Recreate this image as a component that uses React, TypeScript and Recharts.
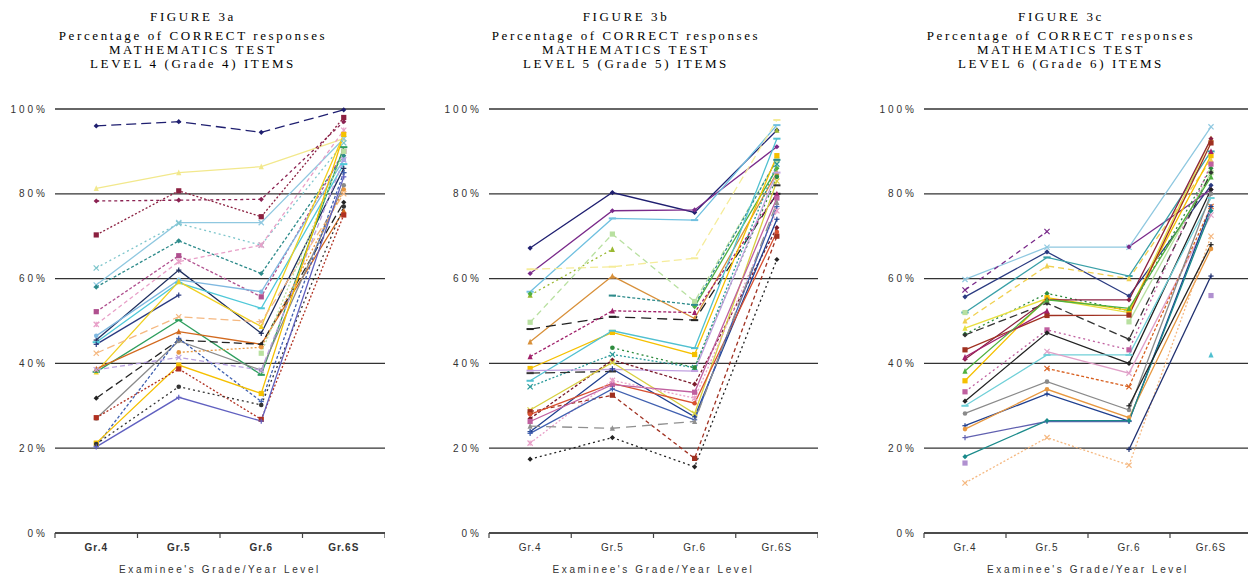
import React from 'react';
import { LineChart, Line, XAxis, YAxis, CartesianGrid, Label } from 'recharts';

type V = number | null;

const categories = ['Gr.4', 'Gr.5', 'Gr.6', 'Gr.6S'];
const yTicks = [0, 20, 40, 60, 80, 100];
const xAxisTitle = "Examinee's Grade/Year Level";

const fig3aTitle = ['FIGURE 3a', 'Percentage of CORRECT responses', 'MATHEMATICS TEST', 'LEVEL 4 (Grade 4) ITEMS'];
const fig3bTitle = ['FIGURE 3b', 'Percentage of CORRECT responses', 'MATHEMATICS TEST', 'LEVEL 5 (Grade 5) ITEMS'];
const fig3cTitle = ['FIGURE 3c', 'Percentage of CORRECT responses', 'MATHEMATICS TEST', 'LEVEL 6 (Grade 6) ITEMS'];

// Figure 3a: values per item at Gr.4, Gr.5, Gr.6, Gr.6S
const fig3aValues: V[][] = [
  [96, 97, 94.5, 99.8],
  [81.3, 85, 86.4, 93],
  [78.3, 78.5, 78.7, 97],
  [70.3, 80.7, 74.6, 98],
  [58.5, 73.2, 73.2, 93],
  [58, 68.9, 61.2, 89],
  [62.5, 73, 67.9, 92],
  [52.2, 65.4, 55.7, 90],
  [49.2, 64, 67.9, 95],
  [45.5, 62, 47.1, 86],
  [46.5, 59.7, 56.9, 88],
  [45, 59, 53, 87],
  [44.5, 56.1, null, 85],
  [38, 59.3, 48.7, 94],
  [42.4, 51, 49.8, 80],
  [38, 50.2, 37.3, 91],
  [38.7, 47.5, 44.5, 76],
  [31.8, 45.5, 44.5, 78],
  [27, 45.3, 38.4, 82],
  [20.5, 45.9, 31, 85],
  [38.5, 41.4, 38.4, 88],
  [null, 42.6, 43.8, 81],
  [null, null, 42.4, 90],
  [21.2, 39.6, 32.9, 94],
  [27.2, 38.7, 26.8, 75],
  [21, 34.5, 30.2, 77],
  [20.3, 32, 26.4, 84],
];
const fig3aColors = [
  '#1f1f70', '#f2e88c', '#8b2252', '#8b2040', '#8fc8e0', '#2e8b8b', '#7fc6cc', '#b0508f', '#e8a0c8',
  '#1f2f5f', '#7fb8e0', '#4fc8d8', '#2a3a80', '#f0d020', '#f5b880', '#2e9e5e', '#d2691e', '#222222',
  '#8a8a8a', '#4060b0', '#b8a0e0', '#e89840', '#b8e0a0', '#f5c000', '#b03020', '#333333', '#6060c0',
];
const fig3aDashes = [
  '10 5', '', '3 3', '2 2', '', '3 2', '2 3', '3 2', '4 3', '', '', '', '', '', '8 4', '', '', '8 4',
  '', '3 2', '5 3', '2 2', '2 2', '', '2 2', '2 3', '',
];
const fig3aMarkers = [
  'd', 't', 'd', 's', 'x', 'd', 'x', 's', '*', '+', 'o', '-', '+', 't', 'x', '-', 't', 'd',
  'o', '+', 'x', 'o', 's', 's', 's', 'o', '+',
];

// Figure 3b
const fig3bValues: V[][] = [
  [67.2, 80.3, 75.6, 95],
  [61.2, 76, 76.2, 91.1],
  [56.9, 74.2, 73.8, 96.2],
  [49.7, 70.5, 54.6, 88],
  [56.1, 66.9, null, 95],
  [62.2, 62.8, 64.8, 97.4],
  [45.1, 60.6, 50.6, 85],
  [56.4, null, 53.4, 86],
  [null, 56, 53.8, 88],
  [48.1, 51, 50.2, 80],
  [41.6, 52.4, 52, 80],
  [38.8, 47.3, 42.1, 89],
  [35.9, 47.7, 43.6, 93],
  [34.5, 42.1, 39, 87],
  [null, 43.7, 39, 84],
  [38.3, 38.6, 38.2, 85],
  [37.7, 38.1, null, 82],
  [27, 40.8, 35.1, 72],
  [23.9, 38.7, 27.4, 74],
  [29, 40.2, 28.2, 83],
  [28.6, 32.5, 17.6, 70],
  [28, 35.3, 30.6, 71],
  [26.3, 35, 33.2, 79],
  [21.2, 36, 31.8, 76],
  [23.5, 34, 26.7, 77],
  [25.2, 24.7, 26.3, 78],
  [17.4, 22.5, 15.6, 64.5],
];
const fig3bColors = [
  '#1f1f70', '#7a2a8a', '#70c0e0', '#b8e0a0', '#9ab830', '#f5ec9a', '#d8903a', '#50b040', '#2e8b8b',
  '#222222', '#a0206a', '#f5c000', '#50c0d0', '#2a9a9a', '#2e8b3e', '#c0a0e0', '#333333', '#7a1a2a',
  '#1f3f8f', '#d8d040', '#a03020', '#d85030', '#c060a0', '#e8a0c8', '#4060b0', '#909090', '#222222',
];
const fig3bDashes = [
  '', '', '', '6 4', '2 3', '8 4', '', '', '3 2', '10 6', '3 2', '', '', '2 2', '2 3', '', '10 5', '3 2',
  '', '', '4 3', '', '', '2 2', '', '10 6', '2 3',
];
const fig3bMarkers = [
  'd', 'd', '-', 's', 't', '-', 't', 'd', '-', '-', 't', 's', '-', 'x', 'o', '-', '-', 'd',
  '+', 'x', 's', 'o', 's', '*', '+', 't', 'd',
];

// Figure 3c
const fig3cValues: V[][] = [
  [59.8, 67.4, 67.4, 95.8],
  [57.3, 71.1, null, null],
  [55.7, 66.3, 55.9, 82],
  [null, null, 67.5, 81],
  [52, 65, 60.6, 90],
  [50, 63, 60, 88],
  [52, null, 49.8, 85],
  [46.9, 56.5, 52.4, 86],
  [48.3, 55.3, 52, 93],
  [35.9, 55.5, 52.5, 89],
  [46.7, 54.2, 45.7, 85],
  [41, 55, 55, 93],
  [43.2, 51.3, 51.4, 92],
  [41.5, 52.4, null, 90],
  [33.3, 47.9, 43.2, 87],
  [31.1, 47.2, 40, 81],
  [38.2, 55, 53, 84],
  [30, 42, 42, 79],
  [null, 42.8, 37.7, 75],
  [null, 38.8, 34.5, 77],
  [28.2, 35.7, 29, 80],
  [25.3, 32.8, 26.4, 77],
  [24.5, 33.9, 27.2, 67],
  [22.5, 26.3, 26.3, null],
  [18, 26.5, 26.5, 76],
  [16.5, null, null, 56],
  [11.8, 22.5, 16, 70],
  [null, null, 19.7, 60.6],
  [null, null, null, 42],
  [null, null, 30, 68],
];
const fig3cColors = [
  '#8fc8e0', '#7a2a8a', '#2a3a80', '#7a2a8a', '#3aa0a8', '#f0d050', '#b8e0a0', '#2e8b3e', '#e8e040',
  '#f5c000', '#333333', '#8b2040', '#a03020', '#a0206a', '#c060a0', '#222222', '#50b040', '#70d0d8',
  '#e0a0c8', '#d86020', '#8a8a8a', '#1f3f8f', '#e89840', '#6060b0', '#1a8a8a', '#b090d0', '#f5b880',
  '#1f2f6f', '#50c0d0', '#222222',
];
const fig3cDashes = [
  '', '5 4', '', '', '', '6 4', '', '2 3', '', '', '8 4', '', '', '', '2 3', '', '', '',
  '', '3 2', '', '', '', '', '', '', '2 2', '', '', '',
];
const fig3cMarkers = [
  'x', 'x', 'd', 'd', '-', 't', 's', 'd', 't', 's', 'd', 'd', 's', 't', 's', 'd', 't', '-',
  'x', 'x', 'o', '+', 'o', '+', 'd', 's', 'x', '+', 't', '+',
];

const buildData = (values: V[][]) =>
  categories.map((cat, i) => {
    const row: Record<string, V | string> = { cat };
    values.forEach((series, s) => {
      row['s' + s] = series[i];
    });
    return row;
  });

const makeDot = (shape: string, color: string, sid: string) => (props: any) => {
  const { cx, cy, index, value } = props;
  const key = `${sid}-${index}`;
  if (cx == null || cy == null || value == null || Number.isNaN(cy)) return <g key={key} />;
  const r = 2.6;
  switch (shape) {
    case 's':
      return <rect key={key} x={cx - r} y={cy - r} width={2 * r} height={2 * r} fill={color} />;
    case 't':
      return <polygon key={key} points={`${cx},${cy - r - 0.5} ${cx - r},${cy + r} ${cx + r},${cy + r}`} fill={color} />;
    case 'd':
      return <polygon key={key} points={`${cx},${cy - r} ${cx + r},${cy} ${cx},${cy + r} ${cx - r},${cy}`} fill={color} />;
    case 'o':
      return <circle key={key} cx={cx} cy={cy} r={r - 0.3} fill={color} />;
    case 'x':
      return (
        <g key={key} stroke={color} strokeWidth={1.2}>
          <line x1={cx - r} y1={cy - r} x2={cx + r} y2={cy + r} />
          <line x1={cx - r} y1={cy + r} x2={cx + r} y2={cy - r} />
        </g>
      );
    case '*':
      return (
        <g key={key} stroke={color} strokeWidth={1.2}>
          <line x1={cx - r} y1={cy - r} x2={cx + r} y2={cy + r} />
          <line x1={cx - r} y1={cy + r} x2={cx + r} y2={cy - r} />
          <line x1={cx} y1={cy - r} x2={cx} y2={cy + r} />
        </g>
      );
    case '+':
      return (
        <g key={key} stroke={color} strokeWidth={1.2}>
          <line x1={cx - r} y1={cy} x2={cx + r} y2={cy} />
          <line x1={cx} y1={cy - r} x2={cx} y2={cy + r} />
        </g>
      );
    default:
      return <line key={key} x1={cx - r - 1} y1={cy} x2={cx + r + 1} y2={cy} stroke={color} strokeWidth={2} />;
  }
};

const XTick = (props: any) => {
  const { x, y, payload, index, half, bold } = props;
  return (
    <g>
      <line x1={x - half} y1={y} x2={x - half} y2={y + 5} stroke="#444" strokeWidth={1.2} />
      {index === categories.length - 1 && (
        <line x1={x + half} y1={y} x2={x + half} y2={y + 5} stroke="#444" strokeWidth={1.2} />
      )}
      <text
        x={x}
        y={y + 18}
        textAnchor="middle"
        fontFamily="Liberation Sans, Arial, sans-serif"
        fontSize={10}
        fontWeight={bold ? 'bold' : 'normal'}
        letterSpacing={1}
        fill="#333"
      >
        {payload.value}
      </text>
    </g>
  );
};

type PanelProps = {
  left: number;
  width: number;
  yAxisWidth: number;
  values: V[][];
  colors: string[];
  dashes: string[];
  markers: string[];
  title: string[];
  titleCenter: number;
  boldX: boolean;
  id: string;
};

const Panel = ({ left, width, yAxisWidth, values, colors, dashes, markers, title, titleCenter, boldX, id }: PanelProps) => {
  const data = buildData(values);
  const half = (width - yAxisWidth) / 8;
  return (
    <>
      <div
        style={{
          position: 'absolute',
          left: titleCenter - 200,
          top: 10,
          width: 400,
          textAlign: 'center',
          fontFamily: 'Liberation Serif, Times New Roman, serif',
          fontSize: 13,
          letterSpacing: 2.6,
          lineHeight: '14px',
          color: '#000',
        }}
      >
        <div>{title[0]}</div>
        <div style={{ marginTop: 5 }}>{title[1]}</div>
        <div>{title[2]}</div>
        <div>{title[3]}</div>
      </div>
      <div style={{ position: 'absolute', left, top: 0 }}>
        <LineChart width={width} height={577} data={data} margin={{ top: 109, right: 0, bottom: 0, left: 0 }}>
          <CartesianGrid horizontal vertical={false} stroke="#333" strokeWidth={1.3} />
          <XAxis
            dataKey="cat"
            scale="band"
            height={44}
            tickSize={0}
            tickMargin={0}
            tickLine={false}
            axisLine={{ stroke: '#444', strokeWidth: 1.5 }}
            interval={0}
            tick={<XTick half={half} bold={boldX} />}
          >
            <Label
              value={xAxisTitle}
              position="insideBottom"
              offset={4}
              style={{ fontFamily: 'Liberation Sans, Arial, sans-serif', fontSize: 10, letterSpacing: 2.6, fill: '#333' }}
            />
          </XAxis>
          <YAxis
            width={yAxisWidth}
            domain={[0, 100]}
            ticks={yTicks}
            axisLine={false}
            tickLine={false}
            tickMargin={1}
            tickFormatter={(v: number) => `${v}%`}
            tick={{ fontFamily: 'Liberation Sans, Arial, sans-serif', fontSize: 10, letterSpacing: 3, fill: '#333' }}
          />
          {values.map((_, s) => (
            <Line
              key={id + s}
              dataKey={'s' + s}
              type="linear"
              stroke={colors[s]}
              strokeWidth={1.3}
              strokeDasharray={dashes[s] || undefined}
              dot={makeDot(markers[s], colors[s], id + s)}
              activeDot={false}
              connectNulls={false}
              isAnimationActive={false}
            />
          ))}
        </LineChart>
      </div>
    </>
  );
};

export default function App() {
  return (
    <div style={{ position: 'absolute', left: 0, top: 0, width: 1248, height: 577, overflow: 'hidden', background: '#fff' }}>
      <Panel left={0} width={385} yAxisWidth={55} values={fig3aValues} colors={fig3aColors} dashes={fig3aDashes}
        markers={fig3aMarkers} title={fig3aTitle} titleCenter={193} boldX id="a" />
      <Panel left={415} width={403} yAxisWidth={74} values={fig3bValues} colors={fig3bColors} dashes={fig3bDashes}
        markers={fig3bMarkers} title={fig3bTitle} titleCenter={626} boldX={false} id="b" />
      <Panel left={828} width={424} yAxisWidth={96} values={fig3cValues} colors={fig3cColors} dashes={fig3cDashes}
        markers={fig3cMarkers} title={fig3cTitle} titleCenter={1061} boldX={false} id="c" />
    </div>
  );
}
